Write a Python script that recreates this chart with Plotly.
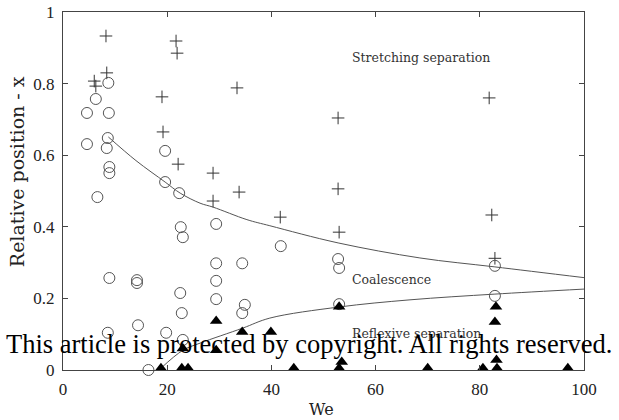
import plotly.graph_objects as go

# Stretching separation (plus markers)
plus_we = [8.25, 6.0, 6.3, 8.4, 21.7, 21.9, 33.4, 19.0, 19.2, 22.1, 28.8, 33.8, 28.8,
           52.8, 52.8, 41.7, 53.0, 81.8, 82.3, 82.9]
plus_x = [0.933, 0.807, 0.793, 0.83, 0.919, 0.885, 0.788, 0.763, 0.665, 0.575, 0.55, 0.497, 0.472,
          0.704, 0.506, 0.427, 0.385, 0.76, 0.433, 0.312]

# Coalescence (open circles)
circ_we = [8.7, 6.3, 4.6, 8.8, 4.6, 8.6, 8.4, 8.9, 8.9, 6.6, 8.9, 14.2, 14.2, 14.4, 8.6, 16.4,
           19.8, 19.6, 19.6, 22.3, 22.6, 23.0, 29.4, 29.4, 34.4, 29.4, 22.5, 29.4, 22.8, 34.9,
           34.4, 23.0, 41.8, 52.8, 53.0, 53.0, 82.9, 82.9]
circ_x = [0.802, 0.757, 0.718, 0.718, 0.631, 0.648, 0.620, 0.567, 0.55, 0.483, 0.257, 0.251, 0.243,
          0.125, 0.104, 0.0, 0.104, 0.612, 0.525, 0.494, 0.399, 0.371, 0.408, 0.298, 0.298, 0.249,
          0.215, 0.198, 0.159, 0.182, 0.159, 0.084, 0.346, 0.31, 0.285, 0.184, 0.291, 0.207]

# Reflexive separation (filled triangles)
tri_we = [18.8, 23.0, 22.8, 24.0, 29.4, 34.4, 39.9, 29.4, 44.3, 53.0, 53.5, 53.0,
          70.0, 80.6, 83.3, 83.2, 83.1, 82.9, 96.9]
tri_x = [0.005, 0.06, 0.005, 0.005, 0.137, 0.106, 0.106, 0.055, 0.005, 0.177, 0.022, 0.005,
         0.005, 0.005, 0.005, 0.028, 0.177, 0.134, 0.005]

# Boundary curves
upper_we = [8.7, 14.0, 19.6, 22.5, 26.3, 28.8, 35.3, 39.7, 52.8, 68.5, 82.9, 100.0]
upper_x = [0.651, 0.585, 0.525, 0.494, 0.466, 0.455, 0.42, 0.403, 0.355, 0.313, 0.288, 0.258]
lower_we = [18.8, 23.0, 26.3, 34.5, 39.7, 53.0, 66.6, 82.9, 100.0]
lower_x = [0.005, 0.055, 0.075, 0.117, 0.145, 0.176, 0.196, 0.212, 0.226]

x_ticks = [0, 20, 40, 60, 80, 100]
y_ticks = [0, 0.2, 0.4, 0.6, 0.8, 1]

fig = go.Figure()
fig.add_trace(go.Scatter(x=upper_we, y=upper_x, mode="lines",
                         line=dict(color="#555555", width=1, shape="spline"), hoverinfo="skip"))
fig.add_trace(go.Scatter(x=lower_we, y=lower_x, mode="lines",
                         line=dict(color="#555555", width=1, shape="spline"), hoverinfo="skip"))
fig.add_trace(go.Scatter(x=plus_we, y=plus_x, mode="markers", cliponaxis=False,
                         marker=dict(symbol="cross-thin", size=9,
                                     line=dict(color="#333333", width=1))))
fig.add_trace(go.Scatter(x=circ_we, y=circ_x, mode="markers", cliponaxis=False,
                         marker=dict(symbol="circle-open", size=11,
                                     line=dict(color="#555555", width=1), color="#555555")))
fig.add_trace(go.Scatter(x=tri_we, y=tri_x, mode="markers", cliponaxis=False,
                         marker=dict(symbol="triangle-up", size=11, color="black")))

serif = "Liberation Serif"
label_font = "DejaVu Serif"
for txt, xx, yy in [("Stretching separation", 55.1, 0.874),
                    ("Coalescence", 55.1, 0.254),
                    ("Reflexive separation", 55.1, 0.103)]:
    fig.add_annotation(x=xx, y=yy, text=txt, showarrow=False, xanchor="left", yanchor="middle",
                       font=dict(family=label_font, size=12.5, color="#333333"))

fig.add_annotation(x=-0.088, y=0.553, xref="paper", yref="paper", text="Relative position - x",
                   textangle=-90, showarrow=False, xanchor="center", yanchor="middle",
                   font=dict(family=label_font, size=19, color="#222222"))

fig.add_annotation(x=0.497, y=-0.109, xref="paper", yref="paper", text="We",
                   showarrow=False, xanchor="center", yanchor="middle",
                   font=dict(family=label_font, size=16, color="#222222"))

fig.add_annotation(x=0.473, y=0.072, xref="paper", yref="paper",
                   text="This article is protected by copyright. All rights reserved.",
                   showarrow=False, xanchor="center", yanchor="middle",
                   font=dict(family=serif, size=26.5, color="black"))

axis_common = dict(showgrid=False, zeroline=False, showline=True, linecolor="#444444",
                   linewidth=1, mirror="ticks", ticks="inside", ticklen=5, tickcolor="#444444",
                   ticklabelstandoff=4, automargin=False,
                   tickfont=dict(family=serif, size=17, color="#222222"))
fig.update_xaxes(range=[0, 100], tickvals=x_ticks, **axis_common)
fig.update_yaxes(range=[0, 1], tickvals=y_ticks, **axis_common)

fig.update_layout(width=619, height=420, margin=dict(l=63, r=35, t=12, b=50),
                  plot_bgcolor="white", paper_bgcolor="white", showlegend=False)
fig.write_html("out.html")
